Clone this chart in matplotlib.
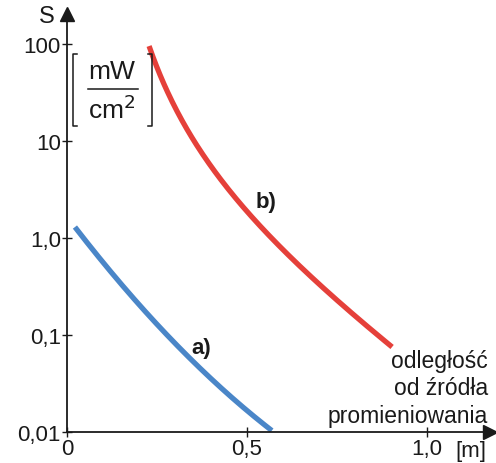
import numpy as np
import matplotlib
matplotlib.use("Agg")
import matplotlib.pyplot as plt
from matplotlib.lines import Line2D

plt.rcParams['font.family'] = ['Liberation Sans', 'DejaVu Sans']

# --- dane ---
x_a = [0.022, 0.119, 0.211, 0.306, 0.397, 0.489, 0.569]
s_a = [1.30, 0.48, 0.173, 0.077, 0.038, 0.0186, 0.010]

x_b = [0.228, 0.294, 0.389, 0.48, 0.572, 0.667, 0.758, 0.85, 0.903]
s_b = [100, 23, 6.1, 2.35, 0.98, 0.45, 0.22, 0.11, 0.072]

yticks = [0.01, 0.1, 1.0, 10, 100]
ytick_labels = ["0,01", "0,1", "1,0", "10", "100"]
xticks = [0, 0.5, 1.0]
xtick_labels = ["0", "0,5", "1,0"]

W, H = 496, 464
INK = '#1a1a1a'
fig = plt.figure(figsize=(W / 100, H / 100), dpi=100)
ax = fig.add_axes([67 / W, (H - 433) / H, (490 - 67) / W, (433 - 15) / H])
ax.set_yscale('log')
ax.set_xlim(0, 1.175)
ax.set_ylim(0.01, 10 ** 2.31)

# wygladzenie (dopasowanie w skali log) tylko do rysowania
def smooth(xs, ys, basis):
    xs = np.asarray(xs, float)
    A = np.column_stack([f(xs) for f in basis])
    c, *_ = np.linalg.lstsq(A, np.log10(ys), rcond=None)
    t = np.linspace(xs[0], xs[-1], 200)
    return t, 10 ** (np.column_stack([f(t) for f in basis]) @ c)

ta, ya = smooth(x_a, s_a, [np.ones_like, lambda x: x, lambda x: x ** 2])
tb, yb = smooth(x_b, s_b, [np.ones_like, lambda x: x, lambda x: 1 / x])
ax.plot(ta, ya, color='#4a86c8', lw=3.8, solid_capstyle='butt')
ax.plot(tb, yb, color='#e5403a', lw=3.8, solid_capstyle='butt')

for s in ['top', 'right']:
    ax.spines[s].set_visible(False)
for s in ['left', 'bottom']:
    ax.spines[s].set_color(INK)
    ax.spines[s].set_linewidth(1.3)

# strzałki osi
ax.plot(1, 0, '>', color=INK, ms=10, transform=ax.transAxes, clip_on=False)
ax.plot(0, 1, '^', color=INK, ms=10, transform=ax.transAxes, clip_on=False)

ax.set_yticks(yticks)
ax.set_yticklabels(ytick_labels)
ax.set_xticks(xticks)
ax.set_xticklabels(xtick_labels)
ax.minorticks_off()
ax.tick_params(direction='inout', length=7, width=1, labelsize=16,
               colors=INK, pad=1)

ax.text(0.345, 0.066, "a)", fontsize=16, fontweight='bold', color=INK)
ax.text(0.525, 2.1, "b)", fontsize=16, fontweight='bold', color=INK)

# teksty w pikselach figury
def fp(px, py):
    return px / W, 1 - py / H

fig.text(*fp(488, 389), "odległość\nod źródła\npromieniowania", fontsize=16.5,
         ha='right', va='center', linespacing=1.25, color=INK)
fig.text(*fp(471, 452), "[m]", fontsize=16, ha='center', va='center', color=INK)
fig.text(*fp(47, 17), "S", fontsize=17, ha='center', va='center', color=INK)

# jednostka [mW/cm2]
fig.text(*fp(112, 72), "mW", fontsize=19, ha='center', va='center', color=INK)
fig.text(*fp(112, 110), "cm$^2$", fontsize=19, ha='center', va='center', color=INK)
lines = [
    ([88, 138], [90, 90]),
    ([77, 73, 73, 77], [55, 55, 127, 127]),
    ([148, 152, 152, 148], [55, 55, 127, 127]),
]
for lx, ly in lines:
    fig.add_artist(Line2D([v / W for v in lx], [1 - v / H for v in ly],
                          color=INK, lw=1.1, transform=fig.transFigure))

fig.savefig("out.png", dpi=100)
